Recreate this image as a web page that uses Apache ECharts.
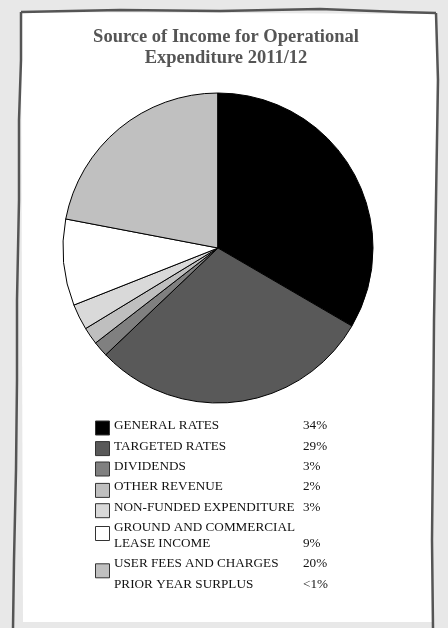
<!DOCTYPE html>
<html>
<head>
<meta charset="utf-8">
<script src="https://cdn.jsdelivr.net/npm/echarts@6/dist/echarts.min.js"></script>
<style>
  html, body { margin: 0; padding: 0; background: #e8e8e8; }
</style>
</head>
<body>
<div id="main" style="width:448px; height:628px;"></div>
<script>
// data
var categories = ['GENERAL RATES', 'TARGETED RATES', 'DIVIDENDS', 'OTHER REVENUE',
  'NON-FUNDED EXPENDITURE', 'GROUND AND COMMERCIAL\nLEASE INCOME', 'USER FEES AND CHARGES', 'PRIOR YEAR SURPLUS'];
var sliceValues = [33.4, 29.5, 1.6, 1.8, 2.7, 9.0, 22.0, 0];   // measured slice sizes
var percentLabels = ['34%', '29%', '3%', '2%', '3%', '9%', '20%', '<1%'];
var sliceColors = ['#000000', '#595959', '#808080', '#bfbfbf', '#d9d9d9', '#ffffff', '#c0c0c0', '#ffffff'];
var titleText = 'Source of Income for Operational\nExpenditure 2011/12';

var chart = echarts.init(document.getElementById('main'));

// legend drawn by hand, the original has a quirky layout
var legendItems = [];
var boxDy = [2, 2.3, 2.4, 3.5, 3.5, 6, 7, null]; // box offset from first text line
var y = 426;
for (var i = 0; i < categories.length; i++) {
  var lines = categories[i].split('\n');
  var lastY = y + (lines.length - 1) * 16;
  if (boxDy[i] !== null) {
    legendItems.push({
      type: 'rect',
      shape: { x: 95.5, y: y + boxDy[i] - 7, width: 14, height: 14 },
      style: { fill: sliceColors[i], stroke: '#333', lineWidth: 1 }
    });
  }
  lines.forEach(function (ln, k) {
    legendItems.push({
      type: 'text', x: 114, y: y + k * 16,
      style: { text: ln, fill: '#111', font: '13.2px "Liberation Serif"', textVerticalAlign: 'middle' }
    });
  });
  legendItems.push({
    type: 'text', x: 303, y: lastY,
    style: { text: percentLabels[i], fill: '#111', font: '13.2px "Liberation Serif"', textVerticalAlign: 'middle' }
  });
  y = lastY + 20.3;
}

// paper sheet with a rough pencil edge
var paper = [
  { type: 'polygon', z: -10, shape: { points: [[21, 12], [437, 14], [432, 622], [23, 622]] }, style: { fill: '#fff' } },
  { type: 'polyline', z: -9, shape: { points: [[13, 628], [14, 560], [16, 470], [17, 380], [17, 300], [19, 200], [19, 120], [21, 60], [21, 12]] },
    style: { stroke: '#555', lineWidth: 2.5, fill: null } },
  { type: 'polyline', z: -9, shape: { points: [[21, 12], [120, 10], [220, 11], [320, 9], [400, 12], [436, 13]] },
    style: { stroke: '#555', lineWidth: 2.5, fill: null } },
  { type: 'polyline', z: -9, shape: { points: [[436, 13], [438, 80], [436, 200], [434, 320], [433, 440], [432, 540], [433, 628]] },
    style: { stroke: '#555', lineWidth: 2.5, fill: null } }
];

chart.setOption({
  backgroundColor: '#e8e8e8',
  animation: false,
  title: {
    text: titleText,
    left: 226,
    top: 27,
    textAlign: 'center',
    padding: 0,
    textStyle: {
      fontFamily: 'Liberation Serif',
      fontSize: 18.5,
      fontWeight: 'bold',
      color: '#555',
      lineHeight: 21
    }
  },
  graphic: paper.concat(legendItems),
  series: [{
    type: 'pie',
    center: [218, 248],
    radius: 155,
    startAngle: 90,
    clockwise: true,
    label: { show: false },
    labelLine: { show: false },
    emphasis: { disabled: true },
    itemStyle: { borderColor: '#000', borderWidth: 1 },
    data: categories.map(function (c, i) {
      return { name: c, value: sliceValues[i], itemStyle: { color: sliceColors[i] } };
    })
  }]
});
</script>
</body>
</html>
